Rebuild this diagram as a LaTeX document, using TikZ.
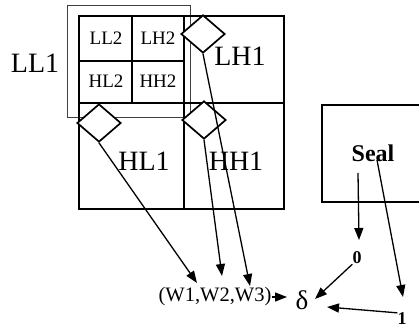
\documentclass[tikz,border=0pt]{standalone}
\usepackage{fontspec}
\setmainfont{Liberation Serif}
\usetikzlibrary{shapes.geometric,arrows.meta}
\tikzset{
  gridline/.style={line width=1.3pt},
  dia/.style={draw, diamond, line width=1.7pt, inner sep=0pt, minimum width=44pt, minimum height=38pt},
  biglab/.style={font=\fontsize{28}{28}\selectfont, inner sep=0pt},
  smalllab/.style={font=\fontsize{19}{19}\selectfont, inner sep=0pt},
  digit/.style={font=\bfseries\fontsize{18}{18}\selectfont, inner sep=0pt},
  arr/.style={line width=1.3pt, -{Triangle[length=12pt,width=9pt]}},
}
\begin{document}
\begin{tikzpicture}[x=1pt,y=-1pt]
\useasboundingbox (0,0) rectangle (419,329);
% outer LL1 frame
\draw[line width=0.8pt, black!75] (67,5) rectangle (190,117);
% main grid
\draw[gridline] (79,16) rectangle (284,209);
\draw[gridline] (184,16) -- (184,209);
\draw[gridline] (79,103) -- (284,103);
\draw[gridline] (132,16) -- (132,103);
\draw[gridline] (79,61) -- (184,61);
% labels
\node[biglab] (ll1) at (35,63) {LL1};
\node[smalllab] (ll2) at (106,38) {LL2};
\node[smalllab] (lh2) at (158,38) {LH2};
\node[smalllab] (hl2) at (106,81) {HL2};
\node[smalllab] (hh2) at (158,81) {HH2};
\node[biglab] (lh1) at (240,56) {LH1};
\node[biglab] (hl1) at (144,161) {HL1};
\node[biglab] (hh1) at (236,161) {HH1};
% diamonds
\node[dia, fill=white] (dlh) at (203,34) {};
\node[dia, fill=white] (dhh) at (204,120) {};
\node[dia, fill=white] (dhl) at (99,123) {};
% seal box
\draw[line width=1.3pt] (419,105) -- (322,105) -- (322,202) -- (419,202);
\node[font=\bfseries\fontsize{24}{24}\selectfont, inner sep=0pt] (seal) at (373,153) {Seal};
% bottom texts
\node[font=\fontsize{20.5}{20.5}\selectfont, inner sep=0pt] (w) at (215,297) {(W1,W2,W3)};
\node[font=\fontsize{27}{27}\selectfont, inner sep=0pt] (delta) at (302,300) {δ};
\node[digit] (zero) at (357,258) {0};
\node[digit] (one) at (402,319) {1};
% coordinates
\coordinate (t1) at (197,283);
\coordinate (t2) at (222,276);
\coordinate (t3) at (250,286);
\coordinate (s0) at (358,173);
\coordinate (t4) at (359,240);
\coordinate (s1) at (377,160);
\coordinate (t5) at (403,297);
\coordinate (t6) at (287,297);
\coordinate (t7) at (315,299);
\coordinate (t8) at (327,307);
% arrows
\draw[arr] (dhl.south) -- (t1);
\draw[arr] (dhh.south) -- (t2);
\draw[arr] (dlh.south) -- (t3);
\draw[arr] (w.east) -- (t6);
\draw[arr] (s0) -- (t4);
\draw[arr] (s1) -- (t5);
\draw[arr] (zero.south west) -- (t7);
\draw[arr] (one.north west) -- (t8);
\end{tikzpicture}
\end{document}
